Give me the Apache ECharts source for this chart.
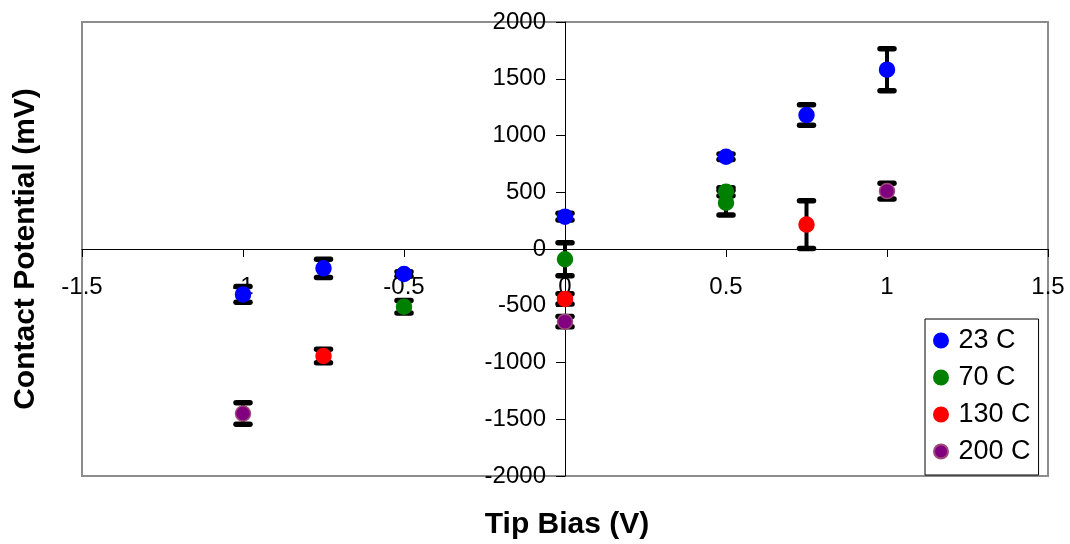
<!DOCTYPE html>
<html>
<head>
<meta charset="utf-8">
<script src="https://cdn.jsdelivr.net/npm/echarts@6/dist/echarts.min.js"></script>
<style>html,body{margin:0;padding:0;background:#fff;}#c{width:1070px;height:544px;}</style>
</head>
<body>
<div id="c"></div>
<script>
// ---- data ----
var xTicks = [-1.5, -1, -0.5, 0, 0.5, 1, 1.5];
var yTicks = [-2000, -1500, -1000, -500, 0, 500, 1000, 1500, 2000];

var seriesNames = ['23 C', '70 C', '130 C', '200 C'];

var x23 = [-1, -0.75, -0.5, 0, 0.5, 0.75, 1];
var y23 = [-400, -170, -220, 285, 813, 1180, 1580];
var e23 = [70, 80, 20, 30, 25, 90, 185];

var x70 = [-0.5, 0, 0.5, 0.5];
var y70 = [-508, -90, 505, 408];
var e70 = [55, 145, 35, 108];

var x130 = [-0.75, 0, 0.75];
var y130 = [-943, -440, 215];
var e130 = [60, 45, 210];

var x200 = [-1, 0, 1];
var y200 = [-1450, -640, 510];
var e200 = [95, 45, 70];

// ---- build ----
var FONT = "'Liberation Sans', Arial, sans-serif";

var groups = [
  {name: seriesNames[0], x: x23, y: y23, e: e23, color: '#0000ff', border: '#0000ff'},
  {name: seriesNames[1], x: x70, y: y70, e: e70, color: '#008000', border: '#008000'},
  {name: seriesNames[2], x: x130, y: y130, e: e130, color: '#ff0000', border: '#ff0000'},
  {name: seriesNames[3], x: x200, y: y200, e: e200, color: '#800080', border: '#a04a7a'}
];

function errRender(params, api) {
  var x = api.value(0), y = api.value(1), e = api.value(2);
  var top = api.coord([x, y + e]);
  var bot = api.coord([x, y - e]);
  var hw = 7;
  return {
    type: 'group',
    children: [
      {type: 'line', shape: {x1: top[0], y1: top[1], x2: bot[0], y2: bot[1]},
       style: {stroke: '#000', lineWidth: 4}},
      {type: 'line', shape: {x1: top[0] - hw, y1: top[1], x2: top[0] + hw, y2: top[1]},
       style: {stroke: '#000', lineWidth: 5.5, lineCap: 'round'}},
      {type: 'line', shape: {x1: bot[0] - hw, y1: bot[1], x2: bot[0] + hw, y2: bot[1]},
       style: {stroke: '#000', lineWidth: 5.5, lineCap: 'round'}}
    ]
  };
}

function fmt(v) { return String(v); }

var series = [];
// tick labels placed through the axes' own scales (axis lines sit at zero)
series.push({
  type: 'custom', name: 'xlabels', silent: true, z: 1,
  encode: {x: 0, y: 1},
  data: xTicks.map(function (v) { return [v, 0]; }),
  renderItem: function (params, api) {
    var p = api.coord([api.value(0), 0]);
    return {type: 'text', style: {text: fmt(api.value(0)), x: p[0], y: p[1] + 38.5,
      textAlign: 'center', textVerticalAlign: 'middle', font: '24px ' + FONT, fill: '#000'}};
  }
});
series.push({
  type: 'custom', name: 'ylabels', silent: true, z: 1,
  encode: {x: 0, y: 1},
  data: yTicks.map(function (v) { return [0, v]; }),
  renderItem: function (params, api) {
    var p = api.coord([0, api.value(1)]);
    return {type: 'text', style: {text: fmt(api.value(1)), x: p[0] - 19, y: p[1],
      textAlign: 'right', textVerticalAlign: 'middle', font: '24px ' + FONT, fill: '#000'}};
  }
});
groups.forEach(function (g) {
  series.push({
    type: 'custom',
    name: g.name + ' err',
    renderItem: errRender,
    encode: {x: 0, y: 1},
    z: 2,
    silent: true,
    data: g.x.map(function (v, i) { return [v, g.y[i], g.e[i]]; })
  });
});
groups.forEach(function (g) {
  series.push({
    type: 'scatter',
    name: g.name,
    symbol: 'circle',
    symbolSize: 15,
    z: 3,
    itemStyle: {color: g.color, borderColor: g.border, borderWidth: 1.5, opacity: 1},
    data: g.x.map(function (v, i) { return [v, g.y[i]]; })
  });
});

var chart = echarts.init(document.getElementById('c'));
chart.setOption({
  backgroundColor: '#fff',
  animation: false,
  grid: {left: 82, right: 22, top: 22, bottom: 68, show: true, containLabel: false,
         outerBoundsMode: 'none',
         borderColor: '#8c8c8c', borderWidth: 2, backgroundColor: 'transparent'},
  xAxis: {
    type: 'value', min: -1.5, max: 1.5, interval: 0.5,
    axisLine: {onZero: true, lineStyle: {color: '#000', width: 1}},
    axisTick: {show: true, inside: false, length: 8, lineStyle: {color: '#000', width: 1}},
    splitLine: {show: false},
    axisLabel: {show: false}
  },
  yAxis: {
    type: 'value', min: -2000, max: 2000, interval: 500,
    axisLine: {onZero: true, lineStyle: {color: '#000', width: 1}},
    axisTick: {show: true, inside: false, length: 9, lineStyle: {color: '#000', width: 1}},
    splitLine: {show: false},
    axisLabel: {show: false}
  },
  legend: {
    show: true,
    data: seriesNames,
    orient: 'vertical',
    left: 925, top: 319,
    padding: [8, 8, 10, 8],
    itemGap: 10,
    itemWidth: 25, itemHeight: 14,
    icon: 'circle',
    borderColor: '#000', borderWidth: 1,
    backgroundColor: '#fff',
    textStyle: {fontSize: 27, color: '#000', fontFamily: FONT}
  },
  graphic: [
    {type: 'text', x: 567, y: 525,
     style: {text: 'Tip Bias (V)', x: 0, y: 0, textAlign: 'center', textVerticalAlign: 'middle',
             font: 'bold 30px ' + FONT, fill: '#000'}},
    {type: 'text', x: 26, y: 249, rotation: Math.PI / 2,
     style: {text: 'Contact Potential (mV)', x: 0, y: 0, textAlign: 'center', textVerticalAlign: 'middle',
             font: 'bold 30px ' + FONT, fill: '#000'}}
  ],
  series: series
});
</script>
</body>
</html>
